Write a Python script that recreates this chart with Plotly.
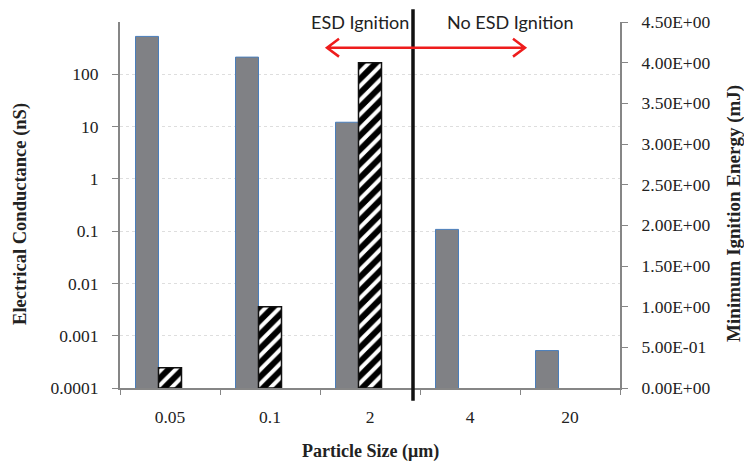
import plotly.graph_objects as go

particle_sizes = ["0.05", "0.1", "2", "4", "20"]
conductance_nS = [530, 213, 12.1, 0.108, 0.00052]
mie_mJ = [0.25, 1.0, 4.0, None, None]

left_tickvals = [1e-4, 1e-3, 1e-2, 1e-1, 1, 10, 100]
left_ticktext = ["0.0001", "0.001", "0.01", "0.1", "1", "10", "100"]
right_tickvals = [0, 0.5, 1.0, 1.5, 2.0, 2.5, 3.0, 3.5, 4.0, 4.5]
right_ticktext = [f"{v:.2E}" for v in right_tickvals]

W, H = 744, 466
L, R, T, B = 120, 124, 18, 78
PW, PH = W - L - R, H - T - B


def px(x):
    return (x - L) / PW


def py(y):
    return (H - B - y) / PH


fig = go.Figure()
fig.add_trace(go.Bar(
    x=particle_sizes, y=conductance_nS, name="Electrical Conductance",
    width=0.23, offset=-0.345,
    marker=dict(color="#808185", line=dict(color="#4a7ebb", width=1)),
    yaxis="y",
))
fig.add_trace(go.Bar(
    x=particle_sizes, y=mie_mJ, name="MIE",
    width=0.23, offset=-0.115,
    marker=dict(color="white", line=dict(color="#111111", width=1.5),
                pattern=dict(shape="/", fgcolor="#000000", bgcolor="white",
                             fgopacity=1, size=10, solidity=0.6)),
    yaxis="y2",
))

serif = "Liberation Serif, Times New Roman, serif"
fig.update_layout(
    width=W, height=H,
    margin=dict(l=L, r=R, t=T, b=B),
    paper_bgcolor="white", plot_bgcolor="white",
    showlegend=False, barmode="overlay",
    xaxis=dict(
        type="category", showline=True, linecolor="#868686", linewidth=2,
        ticks="outside", tickson="boundaries", ticklen=5, tickcolor="#868686",
        tickfont=dict(family=serif, size=17.5, color="#222"),
        ticklabelstandoff=12, showgrid=False, range=[-0.5, 4.5],
    ),
    yaxis=dict(
        type="log", range=[-4, 3], showline=True, linecolor="#868686", linewidth=2,
        ticks="outside", ticklen=6, tickcolor="#868686",
        tickvals=left_tickvals, ticktext=left_ticktext,
        tickfont=dict(family=serif, size=17.5, color="#222"),
        ticklabelstandoff=10,
        showgrid=True, gridcolor="#dedede", griddash="dot", gridwidth=1,
        zeroline=False,
    ),
    yaxis2=dict(
        overlaying="y", side="right", range=[0, 4.5],
        showline=True, linecolor="#868686", linewidth=2,
        ticks="outside", ticklen=6, tickcolor="#868686",
        tickvals=right_tickvals, ticktext=right_ticktext,
        tickfont=dict(family=serif, size=17.5, color="#222"),
        ticklabelstandoff=10, showgrid=False, zeroline=False,
    ),
)

# vertical separator line
fig.add_shape(type="line", xref="x", yref="paper", x0=2.43, x1=2.43,
              y0=py(401), y1=py(5), line=dict(color="#111111", width=3.5))

# red double arrow
ay = py(44)
path = (f"M {px(327)},{ay} L {px(525)},{ay} "
        f"M {px(513)},{py(35)} L {px(525)},{ay} L {px(513)},{py(53)} "
        f"M {px(339)},{py(35)} L {px(327)},{ay} L {px(339)},{py(53)}")
fig.add_shape(type="path", xref="paper", yref="paper", path=path,
              line=dict(color="#ee1c1c", width=2.5))

sans = "Lato, Open Sans, sans-serif"
common = dict(xref="paper", yref="paper", showarrow=False,
              xanchor="center", yanchor="middle")
fig.add_annotation(x=px(360), y=py(18), text="ESD Ignition",
                   font=dict(family=sans, size=18, color="#222"), **common)
fig.add_annotation(x=px(510), y=py(18), text="No ESD Ignition",
                   font=dict(family=sans, size=18, color="#222"), **common)

# axis titles
fig.add_annotation(x=px(370), y=py(452), text="<b>Particle Size (μm)</b>",
                   font=dict(family=serif, size=18, color="#222"), **common)
fig.add_annotation(x=px(21), y=py(212), text="<b>Electrical Conductance (nS)</b>",
                   textangle=-90, font=dict(family=serif, size=18.5, color="#222"),
                   **common)
fig.add_annotation(x=px(734), y=py(212), text="<b>Minimum Ignition Energy (mJ)</b>",
                   textangle=-90, font=dict(family=serif, size=19, color="#222"),
                   **common)

fig.write_html("out.html", config={"displayModeBar": False},
               post_script="document.body.style.margin='0';")
